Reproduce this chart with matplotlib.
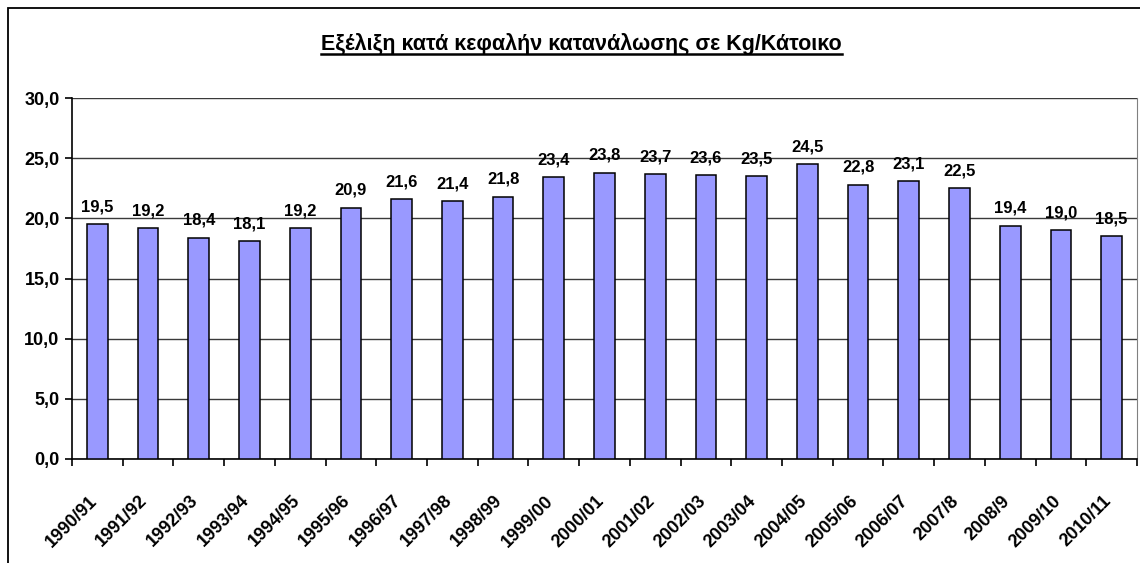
import matplotlib.pyplot as plt
import matplotlib.transforms as mtransforms
import numpy as np
from matplotlib.patches import Rectangle
from matplotlib.lines import Line2D

plt.rcParams['font.family'] = ['Liberation Sans', 'DejaVu Sans']
plt.rcParams['font.weight'] = 'bold'

periodos = ["1990/91", "1991/92", "1992/93", "1993/94", "1994/95", "1995/96",
            "1996/97", "1997/98", "1998/99", "1999/00", "2000/01", "2001/02",
            "2002/03", "2003/04", "2004/05", "2005/06", "2006/07", "2007/8",
            "2008/9", "2009/10", "2010/11"]
consumo = [19.5, 19.2, 18.4, 18.1, 19.2, 20.9, 21.6, 21.4, 21.8, 23.4, 23.8,
           23.7, 23.6, 23.5, 24.5, 22.8, 23.1, 22.5, 19.4, 19.0, 18.5]
y_ticks = [0, 5, 10, 15, 20, 25, 30]

titulo = "Εξέλιξη κατά κεφαλήν κατανάλωσης σε Kg/Κάτοικο"

fig = plt.figure(figsize=(11.4, 5.63), dpi=100)
W, H = 1140, 563

# outer frame (cut at right and bottom like the screenshot)
fig.patches.append(Rectangle((8 / W, -0.05), 1.2, 1 - 8 / H + 0.05,
                             transform=fig.transFigure, fill=False,
                             edgecolor='black', linewidth=1.3))

ax = fig.add_axes([72 / W, 1 - 459 / H, (1137 - 72) / W, (459 - 98) / H])

x = np.arange(len(periodos))
ax.bar(x, consumo, width=0.41, color='#9999FF', edgecolor='black',
       linewidth=1.1, zorder=3)

for xi, v in zip(x, consumo):
    ax.annotate(f"{v:.1f}".replace('.', ','), (xi, v), xytext=(0, 7),
                textcoords='offset points', ha='center', va='bottom',
                fontsize=12, fontweight='bold', zorder=4)

ax.set_xlim(-0.5, len(periodos) - 0.5)
ax.set_ylim(0, 30)
ax.set_yticks(y_ticks)
ax.set_yticklabels([f"{t:.1f}".replace('.', ',') for t in y_ticks],
                   fontsize=13, fontweight='bold')
ax.yaxis.grid(True, color='#3a3a3a', linewidth=1.0, zorder=0)

# ticks between categories, labels at centers
ax.set_xticks(np.arange(len(periodos) + 1) - 0.5)
ax.set_xticklabels([])
ax.set_xticks(x, minor=True)
ax.set_xticklabels(periodos, minor=True, rotation=45, ha='right',
                   rotation_mode='anchor', fontsize=13, fontweight='bold')
ax.tick_params(axis='x', which='minor', length=0, pad=24)
ax.tick_params(axis='x', which='major', length=5, width=1.2, direction='out')
ax.tick_params(axis='y', length=5, width=1.2, direction='out', pad=4)

shift = mtransforms.ScaledTranslation(-9 / 100, 0, fig.dpi_scale_trans)
for lbl in ax.get_xticklabels(minor=True):
    lbl.set_transform(lbl.get_transform() + shift)

ax.spines['top'].set_visible(False)
ax.spines['right'].set_color('#808080')
ax.spines['left'].set_linewidth(1.2)
ax.spines['bottom'].set_linewidth(1.2)

t = fig.text(0.51, 1 - 44 / H, titulo, ha='center', va='center',
             fontsize=15.5, fontweight='bold')
fig.canvas.draw()
bb = t.get_window_extent().transformed(fig.transFigure.inverted())
fig.lines.append(Line2D([bb.x0, bb.x1], [bb.y0 + 0.002, bb.y0 + 0.002],
                        transform=fig.transFigure, color='black', linewidth=1.8))

fig.savefig("out.png", dpi=100)
